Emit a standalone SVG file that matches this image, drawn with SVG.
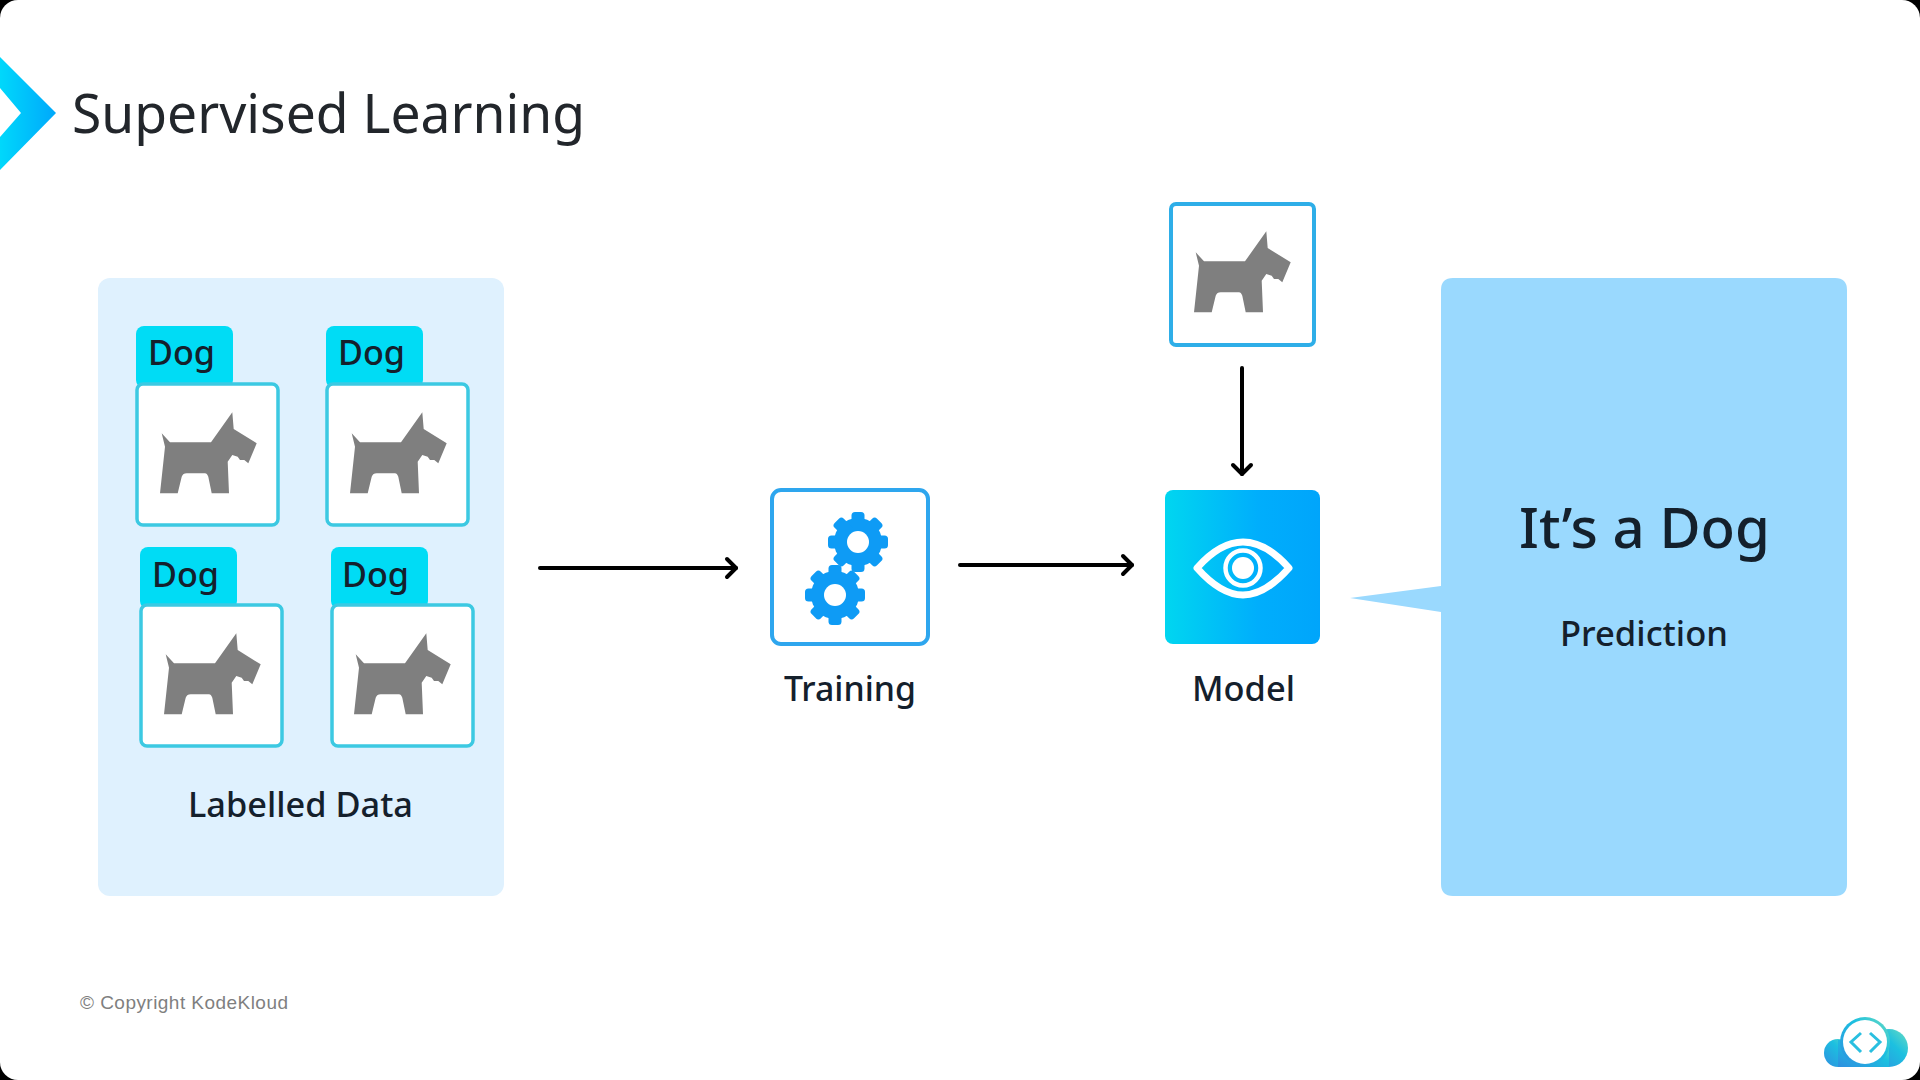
<svg xmlns="http://www.w3.org/2000/svg" width="1920" height="1080" viewBox="0 0 1920 1080">
<style>
.t{font-family:"Noto Sans","Open Sans",sans-serif;fill:#14202c}
.m{font-weight:500;font-size:34px}
.card{fill:#fff;stroke:#3cc9e2;stroke-width:3.500}
.tab{fill:#00dcf5}
.line{fill:none;stroke:#000;stroke-width:4;stroke-linecap:round}
.head{fill:none;stroke:#000;stroke-width:4;stroke-linecap:round;stroke-linejoin:round}
</style>
<defs>
<linearGradient id="gm" x1="0" x2="1" y1="0" y2="0"><stop offset="0" stop-color="#00d6f0"/><stop offset=".6" stop-color="#00aefc"/><stop offset="1" stop-color="#00a5fb"/></linearGradient>
<linearGradient id="gc" x1="0" x2="1" y1="0" y2="0"><stop offset="0" stop-color="#00d8fb"/><stop offset="1" stop-color="#00a8fb"/></linearGradient>
<linearGradient id="gl" x1="0" y1="1" x2="1" y2="0"><stop offset="0" stop-color="#2f8fe0"/><stop offset=".6" stop-color="#1cc0e0"/><stop offset="1" stop-color="#6cdcc0"/></linearGradient>
<path id="dog" fill="#7f7f7f" d="M24.700 49.300 33 58.300H74L95.300 28.300 96.700 45 119.700 59.300 111.300 79.300 107.300 76H103L100.700 72.700 95.300 71 90.700 77.700 92 109.300H74.700L71.300 92.700Q70 89.300 68 89.300H49.700Q46 89.300 44.700 92.700L40.700 109.300H23L28 62.700Z"/>
<g id="gear" fill="#0e9bf5"><circle r="24"/><rect x="-6.500" y="-30" width="13" height="60" rx="3.500"/><rect x="-6.500" y="-30" width="13" height="60" rx="3.500" transform="rotate(45)"/><rect x="-6.500" y="-30" width="13" height="60" rx="3.500" transform="rotate(90)"/><rect x="-6.500" y="-30" width="13" height="60" rx="3.500" transform="rotate(135)"/><circle r="11" fill="#fff"/></g>
</defs>
<rect width="1920" height="1080" fill="#000"/>
<rect width="1920" height="1080" rx="18" fill="#fff"/>
<g id="title">
<path d="M0 57 56 113 0 170V137L21 113 0 88Z" fill="url(#gc)"/>
<text class="t" x="72" y="133" font-size="54" textLength="513" lengthAdjust="spacingAndGlyphs" style="fill:#22262b">Supervised Learning</text>
</g>
<g id="labelled-data">
<rect x="98" y="278" width="406" height="618" rx="12" fill="#dff1fe"/>
<text class="t m" x="188" y="817" textLength="225" lengthAdjust="spacingAndGlyphs">Labelled Data</text>
</g>
<g id="card-1"><rect class="tab" x="136" y="326" width="97" height="62" rx="8"/><rect class="card" x="137" y="384" width="141" height="141" rx="6"/><use href="#dog" x="137" y="384"/><text class="t m" x="148" y="365" textLength="67" lengthAdjust="spacingAndGlyphs">Dog</text></g>
<g id="card-2"><rect class="tab" x="326" y="326" width="97" height="62" rx="8"/><rect class="card" x="327" y="384" width="141" height="141" rx="6"/><use href="#dog" x="327" y="384"/><text class="t m" x="338" y="365" textLength="67" lengthAdjust="spacingAndGlyphs">Dog</text></g>
<g id="card-3"><rect class="tab" x="140" y="547" width="97" height="62" rx="8"/><rect class="card" x="141" y="605" width="141" height="141" rx="6"/><use href="#dog" x="141" y="605"/><text class="t m" x="152" y="587" textLength="67" lengthAdjust="spacingAndGlyphs">Dog</text></g>
<g id="card-4"><rect class="tab" x="331" y="547" width="97" height="62" rx="8"/><rect class="card" x="332" y="605" width="141" height="141" rx="6"/><use href="#dog" x="331" y="605"/><text class="t m" x="342" y="587" textLength="67" lengthAdjust="spacingAndGlyphs">Dog</text></g>
<g id="training">
<rect x="772" y="490" width="156" height="154" rx="9" fill="#fff" stroke="#2ea6ee" stroke-width="4"/>
<use href="#gear" x="858" y="542"/><use href="#gear" x="835" y="595"/>
<text class="t m" x="784" y="701" textLength="132" lengthAdjust="spacingAndGlyphs">Training</text>
</g>
<g id="model">
<rect x="1165" y="490" width="155" height="154" rx="8" fill="url(#gm)"/>
<path d="M1197 568C1212 551 1228 542 1243 542S1274 551 1289 568C1274 585 1258 595 1243 595S1212 585 1197 568Z" fill="none" stroke="#fff" stroke-width="7" stroke-linejoin="round"/>
<circle cx="1243" cy="568" r="11" fill="#fff"/>
<circle cx="1243" cy="568" r="17.500" fill="none" stroke="#fff" stroke-width="4.500"/>
<text class="t m" x="1192" y="701" textLength="103" lengthAdjust="spacingAndGlyphs">Model</text>
</g>
<g id="input-dog">
<rect x="1171" y="204" width="143" height="141" rx="5" fill="#fff" stroke="#2eaee8" stroke-width="4"/>
<use href="#dog" x="1171" y="203"/>
</g>
<g id="prediction">
<path d="M1453 278H1835Q1847 278 1847 290V884Q1847 896 1835 896H1453Q1441 896 1441 884V612L1350 598 1441 586V290Q1441 278 1453 278Z" fill="#9ad9fe"/>
<text class="t" x="1519" y="548" font-size="56" font-weight="500" textLength="251" lengthAdjust="spacingAndGlyphs">It’s a Dog</text>
<text class="t m" x="1560" y="646" textLength="168" lengthAdjust="spacingAndGlyphs">Prediction</text>
</g>
<g id="connectors">
<path class="line" d="M540 568H736"/><path class="head" d="M727 559 736 568 727 577"/>
<path class="line" d="M960 565H1132"/><path class="head" d="M1123 556 1132 565 1123 574"/>
<path class="line" d="M1242 368V474"/><path class="head" d="M1233 465 1242 474 1251 465"/>
</g>
<text x="80" y="1009" font-family="Liberation Sans,sans-serif" font-size="19" fill="#7f7f7f" textLength="208">© Copyright KodeKloud</text>
<g id="logo">
<circle cx="1838" cy="1053" r="14" fill="url(#gl)"/><circle cx="1889" cy="1048" r="19" fill="url(#gl)"/><rect x="1838" y="1040" width="51" height="27" fill="url(#gl)"/>
<circle cx="1865" cy="1042" r="25" fill="url(#gl)"/><circle cx="1865" cy="1042" r="22" fill="#fff"/>
<path d="M1861 1033 1851 1042 1861 1052M1870 1033 1880 1042 1870 1052" fill="none" stroke="#29bfe0" stroke-width="3"/>
</g>
</svg>
